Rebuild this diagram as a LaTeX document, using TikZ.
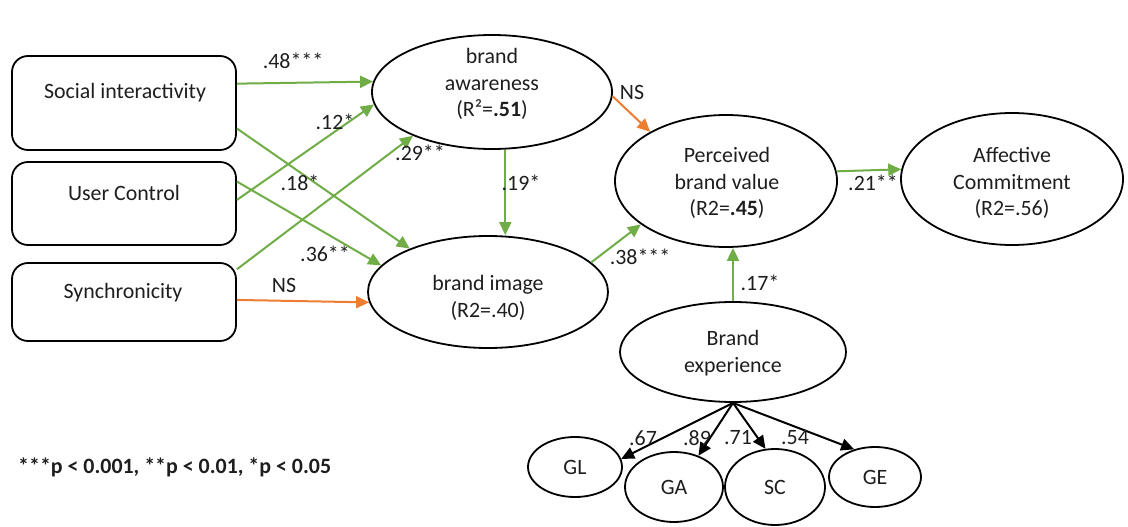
\documentclass[tikz,border=0pt]{standalone}
\usepackage{fontspec}
\setmainfont{Carlito}
\usetikzlibrary{arrows.meta,shapes.geometric,calc}

\definecolor{pathgreen}{RGB}{112,173,71}
\definecolor{pathorange}{RGB}{237,125,49}
\definecolor{inktext}{RGB}{30,30,30}

\begin{document}
\begin{tikzpicture}[x=1pt,y=-1pt,
  every node/.style={font=\fontsize{21.9}{26.5}\selectfont, text=inktext},
  frame/.style={draw, line width=1.8pt, rounded corners=16pt,
    minimum width=224pt, inner sep=0pt},
  oval/.style={draw, ellipse, line width=1.8pt, inner sep=0pt},
  lbl/.style={inner sep=0pt, align=center},
  coef/.style={inner sep=0pt},
  sig/.style={draw=pathgreen, fill=pathgreen, line width=2pt,
    -{Triangle[length=13pt,width=12pt]}},
  nsig/.style={draw=pathorange, fill=pathorange, line width=2pt,
    -{Triangle[length=13pt,width=12pt]}},
  load/.style={draw=black, fill=black, line width=2pt,
    -{Triangle[length=13pt,width=12pt]}}
]
\useasboundingbox (0,0) rectangle (1128,527);

% exogenous constructs
\node[frame, minimum height=94pt] (soc) at (124,103) {};
\node[frame, minimum height=83pt] (uc)  at (124,203.5) {};
\node[frame, minimum height=78pt] (syn) at (124,302) {};
\node[lbl] (soct) at (125,93)  {Social interactivity};
\node[lbl] (uct)  at (124,193) {User Control};
\node[lbl] (synt) at (123,293) {Synchronicity};

% latent constructs
\node[oval, minimum width=240pt, minimum height=114pt] (aw)  at (492,92)  {};
\node[oval, minimum width=240pt, minimum height=112pt] (bi)  at (488,292) {};
\node[oval, minimum width=222pt, minimum height=132pt] (pbv) at (726,181) {};
\node[oval, minimum width=222pt, minimum height=132pt] (ac)  at (1012,179) {};
\node[oval, minimum width=226pt, minimum height=100pt] (be)  at (733,352) {};

\node[lbl] (awt)  at (492,84)  {brand\\awareness\\(R²=\textbf{.51})};
\node[lbl] (bit)  at (488,298) {brand image\\(R2=.40)};
\node[lbl] (pbvt) at (727,183) {Perceived\\brand value\\(R2=\textbf{.45})};
\node[lbl] (act)  at (1012,183) {Affective\\Commitment\\(R2=.56)};
\node[lbl] (bet)  at (733,353) {Brand\\experience};

% brand experience dimensions
\node[oval, minimum width=94pt, minimum height=60pt] (gl) at (575,467) {GL};
\node[oval, minimum width=98pt, minimum height=70pt] (ga) at (674,487) {GA};
\node[oval, minimum width=100pt, minimum height=76pt] (sc) at (775,487) {SC};
\node[oval, minimum width=92pt, minimum height=60pt] (ge) at (875,477) {GE};

% structural paths
\draw[sig]  ($(soc.north east)!0.298!(soc.south east)$) -- (aw.175);
\draw[sig]  ($(uc.north east)!0.458!(uc.south east)$)   -- (aw.186);
\draw[sig]  ($(syn.north east)!0.09!(syn.south east)$)  -- (aw.209);
\draw[sig]  ($(soc.north east)!0.766!(soc.south east)$) -- (bi.151);
\draw[sig]  ($(uc.north east)!0.241!(uc.south east)$)   -- (bi.166);
\draw[nsig] ($(syn.north east)!0.474!(syn.south east)$) -- (bi.185);
\draw[sig]  (aw.283) -- (aw.283 |- bi.north);
\draw[sig]  (bi.16) -- (pbv.207);
\draw[nsig] (aw.358) -- (pbv.147);
\draw[sig]  (pbv.5) -- (ac.175);
\draw[sig]  (be.north) -- (be.north |- pbv.south);

% measurement paths
\draw[load] (be.south) -- (gl.10);
\draw[load] (be.south) -- (ga.52);
\draw[load] (be.south) -- (sc.104);
\draw[load] (be.south) -- (ge.127);

% path coefficients
\node[coef] (c48) at (293,61)  {.48***};
\node[coef] (c12) at (335,122) {.12*};
\node[coef] (c29) at (420,153) {.29**};
\node[coef] (c18) at (300,183) {.18*};
\node[coef] (c36) at (325,254) {.36**};
\node[coef] (cns1) at (284,285) {NS};
\node[coef] (c19) at (521,183) {.19*};
\node[coef] (c38) at (640,257) {.38***};
\node[coef] (cns2) at (632,92) {NS};
\node[coef] (c21) at (873,183) {.21**};
\node[coef] (c17) at (760,283) {.17*};
\node[coef] (c67) at (643,438) {.67};
\node[coef] (c89) at (697,438) {.89};
\node[coef] (c71) at (738,438) {.71};
\node[coef] (c54) at (795,438) {.54};

% significance key
\node[coef, anchor=west, font=\fontsize{21.9}{26.5}\selectfont\bfseries] (key) at (18,467)
  {***p < 0.001, **p < 0.01, *p < 0.05};
\end{tikzpicture}
\end{document}
